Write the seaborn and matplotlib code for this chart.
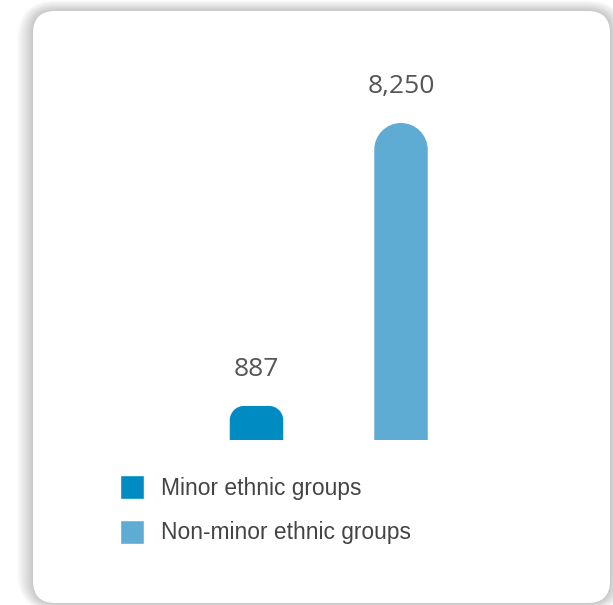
"""
Bar chart of minor vs non-minor ethnic groups, drawn on a rounded card.
"""

# Import libraries
import matplotlib
matplotlib.use('Agg')
import matplotlib.pyplot as plt
import matplotlib.transforms as mtransforms
from matplotlib.patches import FancyBboxPatch, PathPatch
from matplotlib.path import Path
import pandas as pd
import seaborn as sns

# Chart data
groups = ['Minor ethnic groups', 'Non-minor ethnic groups']
values = [887, 8250]
value_labels = ['887', '8,250']
colors = ['#008cc2', '#5eacd4']

W, H = 613, 605
PX_PER_X = 144.5            # pixels per category step
PX_PER_Y = 317 / 8250       # pixels per unit of value
BASE_PX = 440               # baseline of bars, pixels from top
CENTER0 = 256.5             # centre of first bar, pixels from left


def draw_card(fig):
    """Draw the white rounded card with a soft shadow behind it."""
    ident = mtransforms.IdentityTransform()
    left, right, top, bottom = 33, 610, H - 11, H - 603
    for i in range(18, 0, -1):
        fig.patches.append(FancyBboxPatch(
            (left - i * 0.9, bottom - i * 0.5), right - left + i * 1.8,
            top - bottom + i * 1.1,
            boxstyle='round,pad=0,rounding_size=%f' % (22 + i),
            transform=ident, facecolor='black', edgecolor='none',
            alpha=0.011, zorder=-2))
    fig.patches.append(FancyBboxPatch(
        (left, bottom), right - left, top - bottom,
        boxstyle='round,pad=0,rounding_size=22', transform=ident,
        facecolor='white', edgecolor='none', zorder=-1))


def top_rounded_path(x0, x1, y0, y1, rx, ry):
    """Path of a rectangle whose two top corners are rounded."""
    k = 0.5523
    verts = [(x0, y0), (x0, y1 - ry),
             (x0, y1 - ry + k * ry), (x0 + rx - k * rx, y1), (x0 + rx, y1),
             (x1 - rx, y1),
             (x1 - rx + k * rx, y1), (x1, y1 - ry + k * ry), (x1, y1 - ry),
             (x1, y0), (x0, y0)]
    codes = [Path.MOVETO, Path.LINETO,
             Path.CURVE4, Path.CURVE4, Path.CURVE4,
             Path.LINETO,
             Path.CURVE4, Path.CURVE4, Path.CURVE4,
             Path.LINETO, Path.CLOSEPOLY]
    return Path(verts, codes)


def round_tops(ax):
    """Replace the square bars with bars that have rounded tops."""
    for patch in list(ax.patches):
        x, w, h = patch.get_x(), patch.get_width(), patch.get_height()
        r_px = min(w * PX_PER_X / 2, h * PX_PER_Y * 0.42)
        r_x = r_px / PX_PER_X
        r_y = r_px / PX_PER_Y
        patch.set_visible(False)
        ax.add_patch(PathPatch(
            top_rounded_path(x, x + w, 0, h, r_x, r_y),
            facecolor=patch.get_facecolor(), edgecolor='none', zorder=3))


def main():
    """Build the figure and save it."""
    df = pd.DataFrame({'group': groups, 'value': values})

    sns.set_style('white')
    fig = plt.figure(figsize=(W / 100, H / 100), dpi=100)
    fig.patch.set_facecolor('white')
    draw_card(fig)

    ax = fig.add_axes([0, (H - BASE_PX) / H, 1, BASE_PX / H])
    ax.set_zorder(2)
    ax.patch.set_alpha(0)
    sns.barplot(data=df, x='group', y='value', hue='group',
                palette=colors, saturation=1, width=0.37, legend=True,
                ax=ax)

    ax.set_xlim(-CENTER0 / PX_PER_X, (W - CENTER0) / PX_PER_X)
    ax.set_ylim(0, BASE_PX / PX_PER_Y)
    handles = ax.get_legend().legend_handles
    round_tops(ax)

    # Value labels above the bars
    for i, (v, lab) in enumerate(zip(values, value_labels)):
        ax.annotate(lab, (i, v), xytext=(0, 30 * 0.72),
                    textcoords='offset points', ha='center', va='baseline',
                    fontsize=19, color='#555555',
                    family=['Liberation Sans Narrow', 'Open Sans'])

    ax.set_axis_off()

    # Legend below the bars
    ax.legend(handles, groups, loc='upper left',
              bbox_to_anchor=(120 / W, (H - 475) / H),
              bbox_transform=fig.transFigure, frameon=False,
              prop={'family': 'Liberation Sans', 'size': 16.4},
              labelcolor='#444444', handlelength=1.05, handleheight=1.25,
              handletextpad=0.75, labelspacing=0.88, borderaxespad=0,
              borderpad=0)

    plt.savefig('out.png', dpi=100)


if __name__ == '__main__':
    main()
